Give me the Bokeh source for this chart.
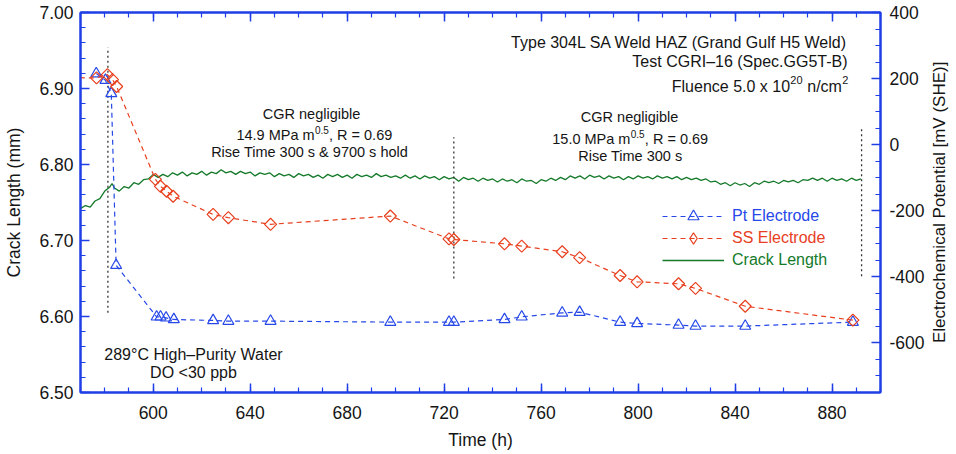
import math
from bokeh.plotting import figure
from bokeh.layouts import row
from bokeh.models import (LinearAxis, Range1d, SingleIntervalTicker, NumeralTickFormatter,
                          Label, Legend, LegendItem)
from bokeh.core.properties import value
from bokeh.embed import file_html
from bokeh.resources import INLINE

# ---------------- data ----------------
# Crack length trace (h, mm)
crack_t = [570, 572, 574, 576, 578, 580, 582, 583, 584, 586, 588, 590, 592, 594, 596, 598,
           600, 602, 604, 606, 608, 610, 612, 614, 616, 618, 620, 622, 624, 626, 628, 630,
           632, 634, 636, 638, 640, 642, 644, 646, 648, 650, 652, 654, 656, 658, 660, 662,
           664, 666, 668, 670, 672, 674, 676, 678, 680, 682, 684, 686, 688, 690, 692, 694,
           696, 698, 700, 702, 704, 706, 708, 710, 712, 714, 716, 718, 720, 722, 724, 726,
           728, 730, 732, 734, 736, 738, 740, 742, 744, 746, 748, 750, 752, 754, 756, 758,
           760, 762, 764, 766, 768, 770, 772, 774, 776, 778, 780, 782, 784, 786, 788, 790,
           792, 794, 796, 798, 800, 802, 804, 806, 808, 810, 812, 814, 816, 818, 820, 822,
           824, 826, 828, 830, 832, 834, 836, 838, 840, 842, 844, 846, 848, 850, 852, 854,
           856, 858, 860, 862, 864, 866, 868, 870, 872, 874, 876, 878, 880, 882, 884, 886,
           888, 890, 892]
crack_mm = [6.742, 6.746, 6.744, 6.752, 6.755, 6.765, 6.770, 6.775, 6.769, 6.765, 6.771, 6.769,
            6.776, 6.774, 6.780, 6.781, 6.787, 6.783, 6.787, 6.784, 6.789, 6.786, 6.790, 6.785,
            6.789, 6.787, 6.791, 6.786, 6.790, 6.788, 6.793, 6.789, 6.791, 6.787, 6.791, 6.788,
            6.790, 6.785, 6.789, 6.787, 6.789, 6.784, 6.788, 6.785, 6.787, 6.783, 6.788, 6.785,
            6.787, 6.783, 6.786, 6.782, 6.787, 6.784, 6.787, 6.783, 6.786, 6.782, 6.787, 6.784,
            6.786, 6.783, 6.788, 6.784, 6.786, 6.783, 6.785, 6.782, 6.786, 6.782, 6.785, 6.781,
            6.785, 6.782, 6.784, 6.780, 6.784, 6.781, 6.783, 6.778, 6.783, 6.780, 6.782, 6.778,
            6.782, 6.779, 6.781, 6.777, 6.781, 6.778, 6.780, 6.776, 6.781, 6.778, 6.779, 6.775,
            6.780, 6.778, 6.782, 6.779, 6.783, 6.780, 6.785, 6.782, 6.785, 6.781, 6.786, 6.783,
            6.785, 6.781, 6.785, 6.782, 6.784, 6.780, 6.784, 6.781, 6.785, 6.782, 6.784, 6.781,
            6.785, 6.782, 6.784, 6.781, 6.784, 6.780, 6.783, 6.780, 6.782, 6.779, 6.781, 6.777,
            6.778, 6.774, 6.776, 6.772, 6.776, 6.773, 6.775, 6.771, 6.776, 6.774, 6.778, 6.776,
            6.778, 6.775, 6.779, 6.777, 6.779, 6.776, 6.780, 6.779, 6.782, 6.779, 6.782, 6.778,
            6.782, 6.779, 6.781, 6.778, 6.782, 6.779, 6.781]

# Pt electrode potential (h, mV SHE)
pt_t = [576.5, 580.3, 582.7, 584.7, 601.4, 603.0, 605.3, 608.5, 624.7, 631.0, 648.4, 697.8,
        722.0, 724.0, 744.9, 752.0, 768.7, 775.9, 792.6, 799.6, 816.7, 823.7, 844.2, 888.6]
pt_mv = [215, 195, 155, -365, -521, -521, -524, -529, -532, -534, -534, -537,
         -537, -537, -529, -521, -509, -507, -537, -541, -546, -549, -549, -537]

# SS electrode potential (h, mV SHE)
ss_t = [566.0, 576.6, 581.1, 583.2, 584.9, 600.9, 603.0, 605.5, 608.2, 624.7, 631.0, 648.4,
        697.8, 722.0, 724.0, 744.9, 752.0, 768.7, 775.9, 792.6, 799.6, 816.7, 823.7, 844.2, 888.6]
ss_mv = [203, 202, 212, 197, 176, -105, -126, -141, -156, -211, -221, -241,
         -216, -285, -287, -300, -307, -324, -342, -396, -415, -421, -435, -489, -531]

# Event markers (h) and their vertical extent (mm)
event_t = [581.3, 724.0, 892.2]
event_lo = [6.605, 6.650, 6.653]
event_hi = [6.954, 6.836, 6.850]

RIGHT_TITLE = "Electrochemical Potential [mV (SHE)]"

# ---------------- style ----------------
FONT = "Liberation Sans"
AXIS_BLUE = "#1f3fe6"
PT_BLUE = "#2648e8"
SS_RED = "#e8401f"
GREEN = "#147a2a"
TXT = "#151515"

p = figure(frame_width=800, frame_height=380,
           x_range=Range1d(570, 900), y_range=Range1d(6.5, 7.0),
           output_backend="svg", toolbar_location=None,
           x_axis_location=None, y_axis_location=None,
           min_border_left=80, min_border_right=48, min_border_top=12, min_border_bottom=58)
p.extra_y_ranges = {"mv": Range1d(-750, 400)}
p.xgrid.visible = False
p.ygrid.visible = False
p.outline_line_color = AXIS_BLUE
p.outline_line_width = 2
p.background_fill_color = "white"
p.border_fill_color = "white"


def style_axis(ax):
    ax.axis_line_color = AXIS_BLUE
    ax.axis_line_width = 2
    ax.major_tick_line_color = AXIS_BLUE
    ax.minor_tick_line_color = AXIS_BLUE
    ax.major_tick_line_width = 1.5
    ax.minor_tick_line_width = 1.2
    ax.major_tick_in = 9
    ax.major_tick_out = 0
    ax.minor_tick_in = 5
    ax.minor_tick_out = 0
    ax.major_label_text_font = FONT
    ax.major_label_text_font_size = "17.5px"
    ax.major_label_text_color = TXT
    ax.axis_label_text_font = FONT
    ax.axis_label_text_font_size = "17.5px"
    ax.axis_label_text_font_style = "normal"
    ax.axis_label_text_color = TXT


bottom = LinearAxis(ticker=SingleIntervalTicker(interval=40, num_minor_ticks=4), axis_label="Time (h)")
style_axis(bottom)
bottom.major_label_standoff = 13
bottom.axis_label_standoff = 8
p.add_layout(bottom, "below")

top = LinearAxis(ticker=SingleIntervalTicker(interval=40, num_minor_ticks=4))
style_axis(top)
top.major_label_text_font_size = "0px"
top.major_label_text_alpha = 0
top.major_label_standoff = 0
p.add_layout(top, "above")

left = LinearAxis(ticker=SingleIntervalTicker(interval=0.1, num_minor_ticks=5),
                  formatter=NumeralTickFormatter(format="0.00"), axis_label="Crack Length (mm)")
style_axis(left)
left.major_label_standoff = 7
left.axis_label_standoff = 12
p.add_layout(left, "left")

right = LinearAxis(y_range_name="mv", ticker=SingleIntervalTicker(interval=200, num_minor_ticks=4),
                   formatter=NumeralTickFormatter(format="0"))
style_axis(right)
right.major_label_standoff = 9
p.add_layout(right, "right")

# ---------------- glyphs ----------------
crack = p.line(crack_t, crack_mm, line_color=GREEN, line_width=1.3)

p.segment(x0=event_t, y0=event_lo, x1=event_t, y1=event_hi,
          line_color="#333333", line_dash="2 3", line_width=1.3)

pt_line = p.line(pt_t, pt_mv, y_range_name="mv", line_color=PT_BLUE, line_dash="5 4", line_width=1.2)
pt_mk = p.scatter(pt_t, pt_mv, y_range_name="mv", marker="triangle", size=11,
                  line_color=PT_BLUE, fill_alpha=0, line_width=1.2)

ss_line = p.line(ss_t, ss_mv, y_range_name="mv", line_color=SS_RED, line_dash="5 4", line_width=1.2)
ss_mk = p.scatter(ss_t, ss_mv, y_range_name="mv", marker="square", angle=math.pi / 4, size=8.5,
                  line_color=SS_RED, fill_alpha=0, line_width=1.2)
# legend-only proxy (not drawn in the plot) so the legend shows a diamond symbol
nan = float("nan")
ss_proxy = p.scatter(x=[nan], y=[nan], y_range_name="mv", marker="diamond", size=12,
                     line_color=SS_RED, fill_alpha=0, line_width=1.2)

# ---------------- legends ----------------
for lab, rends, col, ypos in [("Pt Electrode", [pt_line, pt_mk], PT_BLUE, 162),
                              ("SS Electrode", [ss_line, ss_proxy], SS_RED, 140),
                              ("Crack Length", [crack], GREEN, 118)]:
    lg = Legend(items=[LegendItem(label=lab, renderers=rends, index=0)], location=(582, ypos),
                background_fill_alpha=0, border_line_alpha=0, padding=0, margin=0, spacing=0,
                glyph_width=62, glyph_height=28, label_height=28, label_standoff=8,
                label_text_font=FONT, label_text_font_size="16px", label_text_color=col)
    p.add_layout(lg)


# ---------------- annotations ----------------
def txt(x, y, s, size="16px", align="left", dx=0, dy=0):
    p.add_layout(Label(x=x, y=y, text=s, x_offset=dx, y_offset=dy, text_align=align,
                       text_baseline="middle", text_font=FONT, text_font_size=size,
                       text_color=TXT))


txt(886.4, 6.961, "Type 304L SA Weld HAZ (Grand Gulf H5 Weld)", align="right")
txt(886.4, 6.936, "Test CGRI\u201316 (Spec.GG5T-B)", align="right")
txt(813.9, 6.903, "Fluence 5.0 x 10")
txt(813.9, 6.903, "20", size="11px", dx=118.5, dy=6)
txt(813.9, 6.903, "n/cm", dx=135.5)
txt(813.9, 6.903, "2", size="11px", dx=170.4, dy=6)

txt(665.3, 6.8658, "CGR negligible", size="14.5px", align="center")
txt(634.3, 6.8386, "14.9 MPa m", size="14.5px")
txt(634.3, 6.8386, "0.5", size="10px", dx=78.5, dy=5)
txt(634.3, 6.8386, ", R = 0.69", size="14.5px", dx=92.6)
txt(664.5, 6.8167, "Rise Time 300 s & 9700 s hold", size="14.5px", align="center")

txt(796.5, 6.8628, "CGR negligible", size="14.5px", align="center")
txt(764.6, 6.8329, "15.0 MPa m", size="14.5px")
txt(764.6, 6.8329, "0.5", size="10px", dx=78.5, dy=5)
txt(764.6, 6.8329, ", R = 0.69", size="14.5px", dx=92.6)
txt(796.8, 6.8118, "Rise Time 300 s", size="14.5px", align="center")

txt(616.6, 6.5500, "289\u00b0C High\u2013Purity Water", align="center")
txt(616.6, 6.5263, "DO <30 ppb", align="center")

# ---------------- right-hand axis title strip (reads bottom to top) ----------------
t = figure(width=22, height=450, x_range=Range1d(0, 22), y_range=Range1d(0, 450),
           output_backend="svg", toolbar_location=None,
           x_axis_location=None, y_axis_location=None,
           min_border_left=0, min_border_right=0, min_border_top=0, min_border_bottom=0)
t.xgrid.visible = False
t.ygrid.visible = False
t.outline_line_color = None
t.background_fill_color = "white"
t.border_fill_color = "white"
t.text(x=[11], y=[224], text=[RIGHT_TITLE], angle=math.pi / 2,
       text_align="center", text_baseline="middle", text_font=value(FONT),
       text_font_size="17px", text_color=TXT)

layout = row(p, t)
open("out.html", "w").write(file_html(layout, INLINE))
